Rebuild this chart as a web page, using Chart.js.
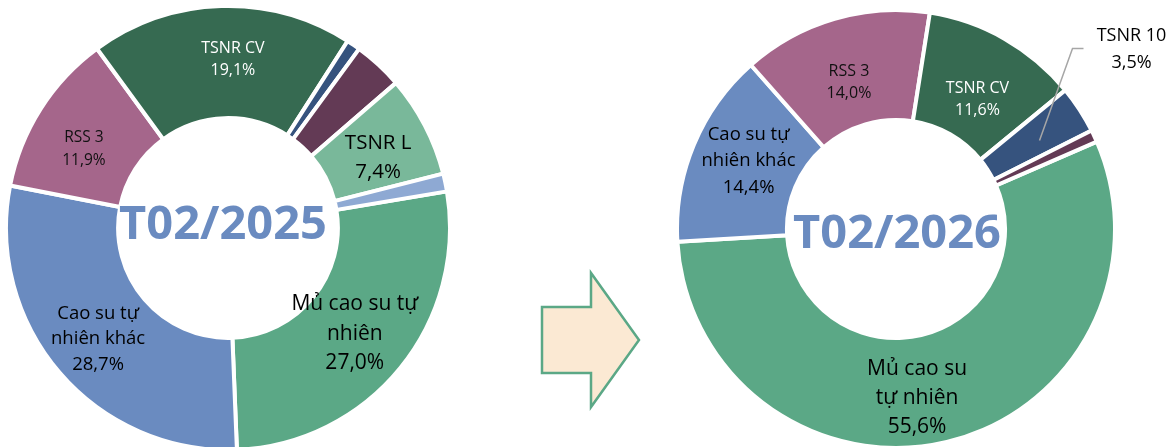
<!DOCTYPE html>
<html>
<head>
<meta charset="utf-8">
<script src="https://cdn.jsdelivr.net/npm/chart.js@4.4.1/dist/chart.umd.min.js"></script>
<style>
  html, body { margin: 0; padding: 0; background: #fff; overflow: hidden; }
  body { width: 1170px; height: 447px; position: relative; }
  .pie { position: absolute; }
  #arrow { position: absolute; left: 530px; top: 260px; }
</style>
</head>
<body>
<div class="pie" style="left:4px;top:4px;width:448px;height:448px"><canvas id="chart2025"></canvas></div>
<div class="pie" style="left:675px;top:8px;width:495px;height:442px"><canvas id="chart2026"></canvas></div>
<svg id="arrow" width="120" height="160">
  <polygon points="12,47 61,47 61,13 109,80 61,147 61,113 12,113"
           fill="#FBE9D3" stroke="#5BA886" stroke-width="2.5" stroke-linejoin="miter"/>
</svg>
<script>
// product groups, shares in %
const categories = ['Mủ cao su tự nhiên', 'Cao su tự nhiên khác', 'RSS 3', 'TSNR CV',
                    'TSNR 10', 'TSNR khác', 'TSNR L', 'Loại khác'];
const share2025 = [27.0, 28.7, 11.9, 19.1, 1.0, 3.6, 7.4, 1.3];
const share2026 = [55.6, 14.4, 14.0, 11.6, 3.5, 0.9];

const colors = ['#5BA886', '#6A8BC0', '#A5668B', '#366A51',
                '#36537E', '#633A55', '#79B89A', '#8EA9D3'];

const pct = v => v.toFixed(1).replace('.', ',') + '%';

// draws the in-slice labels and the period title in the hole
const sliceLabels = {
  id: 'sliceLabels',
  afterDatasetsDraw(chart, args, opts) {
    const ctx = chart.ctx;
    const arcs = chart.getDatasetMeta(0).data;
    const values = chart.data.datasets[0].data;
    ctx.save();
    ctx.textAlign = 'center';
    ctx.textBaseline = 'middle';
    opts.items.forEach(item => {
      const p = arcs[item.index].tooltipPosition(true);
      const x = p.x + item.dx, y = p.y + item.dy;
      if (item.leader) {
        ctx.strokeStyle = '#A6A6A6';
        ctx.lineWidth = 1.5;
        ctx.beginPath();
        ctx.moveTo(p.x + 6, p.y + 1);
        ctx.lineTo(x - 59, y - 1);
        ctx.lineTo(x - 48, y - 1);
        ctx.stroke();
      }
      const lines = item.lines.concat(pct(values[item.index]));
      ctx.font = item.size + 'px "Open Sans"';
      ctx.fillStyle = item.color;
      const top = y - (lines.length - 1) * item.lineH / 2;
      lines.forEach((t, i) => ctx.fillText(t, x, top + i * item.lineH));
    });
    const c = arcs[0];
    ctx.font = 'bold 47px "Open Sans"';
    ctx.fillStyle = '#6A8BC0';
    ctx.textBaseline = 'alphabetic';
    ctx.fillText(opts.title, c.x + opts.titleDx, c.y + opts.titleDy + 0.357 * 47);
    ctx.restore();
  }
};

function makeDonut(id, values, rotation, cutout, padRight, labelOpts) {
  return new Chart(document.getElementById(id), {
    type: 'doughnut',
    data: {
      labels: categories.slice(0, values.length),
      datasets: [{
        data: values,
        backgroundColor: colors.slice(0, values.length),
        borderColor: '#ffffff',
        borderWidth: 4
      }]
    },
    options: {
      responsive: true,
      maintainAspectRatio: false,
      animation: false,
      events: [],
      rotation: rotation,
      cutout: cutout,
      layout: { padding: { right: padRight } },
      plugins: {
        legend: { display: false },
        tooltip: { enabled: false },
        sliceLabels: labelOpts
      }
    },
    plugins: [sliceLabels]
  });
}

makeDonut('chart2025', share2025, 80.5, '49.5%', 0, {
  title: 'T02/2025', titleDx: -5, titleDy: -6,
  items: [
    { index: 0, lines: ['Mủ cao su tự', 'nhiên'], size: 21, lineH: 29.5, color: '#000', dx: -2, dy: 1 },
    { index: 1, lines: ['Cao su tự', 'nhiên khác'], size: 18.5, lineH: 25.5, color: '#000', dx: -4, dy: 3 },
    { index: 2, lines: ['RSS 3'], size: 15.5, lineH: 23, color: '#111', dx: -4, dy: 10 },
    { index: 3, lines: ['TSNR CV'], size: 16, lineH: 22, color: '#fff', dx: 10, dy: -3 },
    { index: 6, lines: ['TSNR L'], size: 20.5, lineH: 29, color: '#000', dx: 3, dy: 6 }
  ]
});

// extra room on the right keeps the outside TSNR 10 label on the canvas
makeDonut('chart2026', share2026, 66.5, '49.8%', 53, {
  title: 'T02/2026', titleDx: 1, titleDy: 2,
  items: [
    { index: 0, lines: ['Mủ cao su', 'tự nhiên'], size: 21, lineH: 29, color: '#000', dx: -17, dy: 9 },
    { index: 1, lines: ['Cao su tự', 'nhiên khác'], size: 18.5, lineH: 26.5, color: '#000', dx: 4, dy: -5 },
    { index: 2, lines: ['RSS 3'], size: 16, lineH: 22, color: '#111', dx: -1, dy: 11 },
    { index: 3, lines: ['TSNR CV'], size: 16, lineH: 22, color: '#fff', dx: 0, dy: 13 },
    { index: 4, lines: ['TSNR 10'], size: 18, lineH: 27, color: '#000', dx: 98, dy: -90, leader: true }
  ]
});
</script>
</body>
</html>
